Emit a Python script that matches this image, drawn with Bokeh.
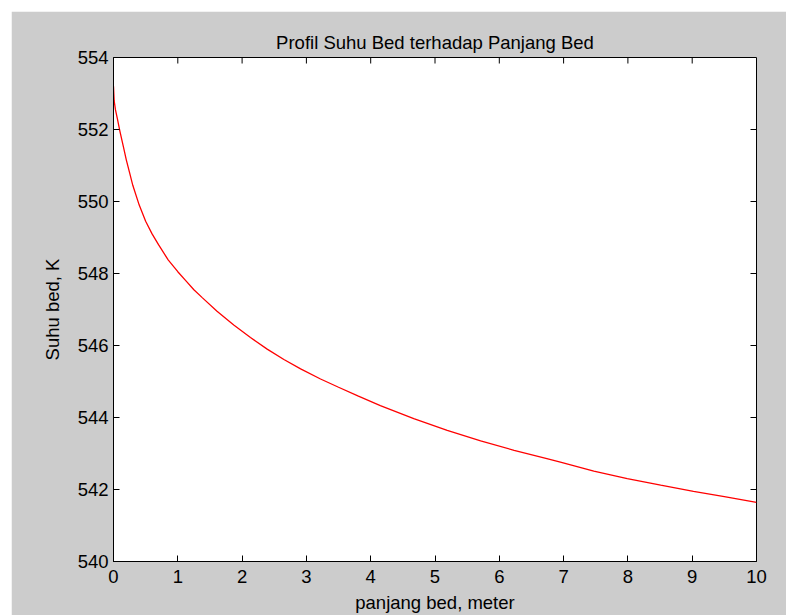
import math
from bokeh.plotting import figure
from bokeh.models import Range1d, FixedTicker
from bokeh.embed import file_html
from bokeh.resources import INLINE

# Data
panjang_bed = [0, 0.01, 0.03, 0.06, 0.10, 0.15, 0.20, 0.25, 0.30, 0.40,
               0.50, 0.60, 0.70, 0.85, 1.00, 1.12, 1.25, 1.38, 1.61, 1.87,
               2.13, 2.39, 2.65, 2.91, 3.22, 3.50, 3.80, 4.15, 4.67, 5.19,
               5.71, 6.23, 6.74, 6.95, 7.47, 7.99, 8.51, 9.02, 9.50, 10.0]
suhu_bed = [553.2, 552.8, 552.55, 552.3, 551.95, 551.55, 551.15, 550.8, 550.45, 549.9,
            549.45, 549.1, 548.8, 548.38, 548.05, 547.81, 547.55, 547.33, 546.95, 546.57,
            546.22, 545.90, 545.61, 545.35, 545.07, 544.84, 544.60, 544.33, 543.97, 543.64,
            543.35, 543.09, 542.86, 542.76, 542.51, 542.30, 542.12, 541.95, 541.80, 541.64]
x_ticks = [0, 1, 2, 3, 4, 5, 6, 7, 8, 9, 10]
y_ticks = [540, 542, 544, 546, 548, 550, 552, 554]

FONT = "Liberation Sans"
FS = "18.5px"
GREY = "#CCCCCC"

p = figure(width=775, height=604, output_backend="svg", toolbar_location=None,
           x_range=Range1d(x_ticks[0], x_ticks[-1]), y_range=Range1d(y_ticks[0], y_ticks[-1]),
           title="Profil Suhu Bed terhadap Panjang Bed",
           min_border_left=102, min_border_right=30, min_border_top=46, min_border_bottom=53)
p.margin = (11, 0, 0, 11)
p.background_fill_color = "white"
p.border_fill_color = GREY
p.outline_line_color = "black"
p.outline_line_width = 1
p.xgrid.visible = False
p.ygrid.visible = False

p.title.text_font = FONT
p.title.text_font_size = FS
p.title.text_font_style = "normal"
p.title.text_color = "black"
p.title.align = "center"
p.title.padding = (0, 0, 6, 0)
p.title.standoff = 10

p.line(panjang_bed, suhu_bed, line_color="#FF0000", line_width=1.3)

for ax, ticks in ((p.xaxis[0], x_ticks), (p.yaxis[0], y_ticks)):
    ax.ticker = FixedTicker(ticks=ticks)
    ax.major_tick_in = 6
    ax.major_tick_out = 0
    ax.minor_tick_in = 0
    ax.minor_tick_out = 0
    ax.axis_line_color = "black"
    ax.major_tick_line_color = "black"
    ax.major_label_text_font = FONT
    ax.major_label_text_font_size = FS
    ax.major_label_text_color = "black"
    ax.axis_label_text_font = FONT
    ax.axis_label_text_font_size = FS
    ax.axis_label_text_font_style = "normal"
    ax.axis_label_text_color = "black"

p.xaxis[0].axis_label = "panjang bed, meter"
p.yaxis[0].axis_label = "Suhu bed, K"
p.xaxis[0].major_label_standoff = 8
p.xaxis[0].axis_label_standoff = 6
p.yaxis[0].major_label_standoff = 5
p.yaxis[0].axis_label_standoff = 12

# Inward ticks on the top and right edges of the box (MATLAB style)
top = [y_ticks[-1]] * len(x_ticks)
right = [x_ticks[-1]] * len(y_ticks)
p.ray(x=x_ticks[1:-1], y=top[1:-1], length=6, length_units="screen",
      angle=-math.pi / 2, line_color="black", line_width=1)
p.ray(x=right[1:-1], y=y_ticks[1:-1], length=6, length_units="screen",
      angle=math.pi, line_color="black", line_width=1)

open("out.html", "w").write(file_html(p, INLINE))
